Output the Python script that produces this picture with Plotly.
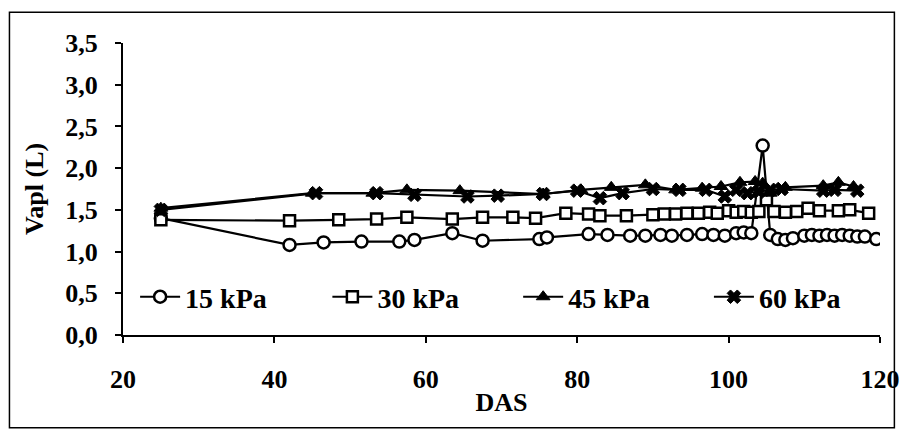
import plotly.graph_objects as go

# Applied volume (L) against days after sowing, one series per soil water tension
das_15 = [25, 42, 46.5, 51.5, 56.5, 58.5, 63.5, 67.5, 75, 76, 81.5, 84, 87, 89, 91, 92.5,
          94.5, 96.5, 98, 99.5, 101, 102, 103, 104.5, 105.5, 106.5, 107.5, 108.5, 110,
          111, 112, 113, 114, 115, 116, 117, 118, 119.5]
vapl_15 = [1.40, 1.08, 1.11, 1.12, 1.12, 1.14, 1.22, 1.13, 1.15, 1.17, 1.21, 1.20, 1.19,
           1.19, 1.20, 1.19, 1.20, 1.21, 1.20, 1.19, 1.22, 1.23, 1.22, 2.27, 1.20, 1.15,
           1.14, 1.16, 1.19, 1.20, 1.19, 1.20, 1.19, 1.20, 1.19, 1.18, 1.18, 1.15]

das_30 = [25, 42, 48.5, 53.5, 57.5, 63.5, 67.5, 71.5, 74.5, 78.5, 81.5, 83, 86.5, 90, 91.5,
          93, 94.5, 96, 97.5, 98.5, 100, 101, 102, 103, 104, 105, 106, 107.5, 109, 110.5,
          112, 114.5, 116, 118.5]
vapl_30 = [1.38, 1.37, 1.38, 1.39, 1.41, 1.39, 1.41, 1.41, 1.40, 1.46, 1.45, 1.43, 1.43,
           1.44, 1.45, 1.45, 1.46, 1.46, 1.47, 1.46, 1.49, 1.47, 1.48, 1.47, 1.48, 1.62,
           1.48, 1.47, 1.48, 1.52, 1.49, 1.49, 1.50, 1.46]

das_45 = [25, 45, 53, 57.5, 64.5, 75.5, 80.5, 84.5, 89, 93, 96.5, 99, 101.5, 103.5, 104.5,
          105.5, 107.5, 112.5, 114.5, 116.5]
vapl_45 = [1.52, 1.70, 1.70, 1.74, 1.73, 1.69, 1.74, 1.77, 1.80, 1.74, 1.76, 1.78, 1.83,
           1.84, 1.82, 1.70, 1.77, 1.79, 1.83, 1.78]

das_60 = [25, 45.5, 53.5, 58.5, 65.5, 69.5, 75.5, 80, 83, 86, 90, 93.5, 97, 99.5, 101,
          102.5, 104, 105.5, 107, 112.5, 114, 117]
vapl_60 = [1.50, 1.70, 1.70, 1.68, 1.66, 1.67, 1.69, 1.73, 1.64, 1.70, 1.75, 1.74, 1.74,
           1.66, 1.74, 1.70, 1.72, 1.74, 1.75, 1.73, 1.74, 1.73]

series_names = ["15 kPa", "30 kPa", "45 kPa", "60 kPa"]
x_ticks = [20, 40, 60, 80, 100, 120]
y_ticks = [0, 0.5, 1.0, 1.5, 2.0, 2.5, 3.0, 3.5]

FONT = "Liberation Serif"
INK = "black"

styles = [
    dict(symbol="circle", color="white", size=12, line=dict(color=INK, width=2.5)),
    dict(symbol="square", color="white", size=11, line=dict(color=INK, width=2.5)),
    dict(symbol="triangle-up", color=INK, size=12, line=dict(color=INK, width=1)),
    dict(symbol="x", color=INK, size=12, line=dict(color=INK, width=1)),
]

# each series gets its own legend box so the four entries sit on one row
legend_ids = ["legend", "legend2", "legend3", "legend4"]
legend_x = [0.016, 0.270, 0.522, 0.774]

fig = go.Figure()
for name, xs, ys, mk, lid in zip(series_names,
                                 [das_15, das_30, das_45, das_60],
                                 [vapl_15, vapl_30, vapl_45, vapl_60],
                                 styles, legend_ids):
    fig.add_trace(go.Scatter(
        x=xs, y=ys, name=name, mode="lines+markers",
        line=dict(color=INK, width=2.2),
        marker=mk, legend=lid,
    ))

legend_common = dict(
    orientation="h", y=0.13, xanchor="left", yanchor="middle",
    bgcolor="rgba(0,0,0,0)", font=dict(family=FONT, size=28, color=INK, weight="bold"),
    itemwidth=40,
)
layout_legends = {lid: dict(legend_common, x=lx) for lid, lx in zip(legend_ids, legend_x)}

fig.update_layout(
    width=912, height=440,
    margin=dict(l=123, r=22, t=43, b=105),
    paper_bgcolor="white", plot_bgcolor="white",
    separators=",.",
    font=dict(family=FONT, size=26, color=INK, weight="bold"),
    showlegend=True,
    shapes=[dict(
        type="rect", xref="paper", yref="paper",
        x0=-0.150, x1=1.019, y0=-0.318, y1=1.105,
        line=dict(color=INK, width=1.5), fillcolor="rgba(0,0,0,0)", layer="below",
    )],
    **layout_legends,
)

fig.update_xaxes(
    range=[20, 120], tickvals=x_ticks, showgrid=False, zeroline=False,
    showline=True, linecolor=INK, linewidth=2,
    ticks="outside", ticklen=6, tickwidth=1.5, tickcolor=INK,
    tickfont=dict(family=FONT, size=26, color=INK, weight="bold"),
    ticklabelstandoff=14,
    title=dict(text="DAS", font=dict(family=FONT, size=26, color=INK, weight="bold"), standoff=0),
)
fig.update_yaxes(
    range=[0, 3.5], tickvals=y_ticks, tickformat=".1f", showgrid=False, zeroline=False,
    showline=True, linecolor=INK, linewidth=2,
    ticks="outside", ticklen=6, tickwidth=1.5, tickcolor=INK,
    tickfont=dict(family=FONT, size=26, color=INK, weight="bold"),
    ticklabelstandoff=12,
    title=dict(text="Vapl (L)", font=dict(family=FONT, size=26, color=INK, weight="bold"), standoff=14),
)

fig.write_html("out.html")
